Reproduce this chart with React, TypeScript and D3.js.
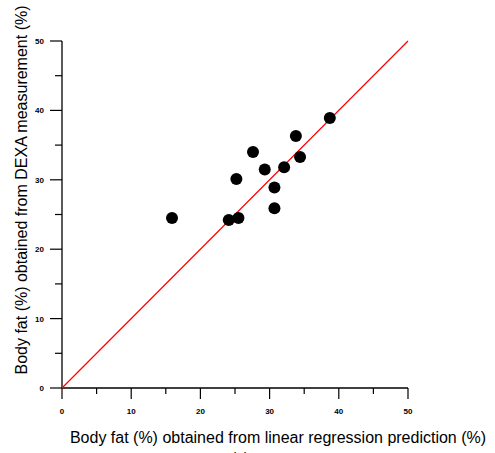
import React, { useRef, useEffect } from "react";
import * as d3 from "d3";

const predicted = [15.9, 24.1, 25.5, 25.2, 27.6, 29.3, 30.7, 30.7, 32.1, 33.8, 34.4, 38.7];
const measured = [24.5, 24.2, 24.5, 30.1, 34.0, 31.5, 28.9, 25.9, 31.8, 36.3, 33.3, 38.9];
const majorTicks = [0, 10, 20, 30, 40, 50];
const minorTicks = [5, 15, 25, 35, 45];
const xTitle = "Body fat (%) obtained from linear regression prediction (%)";
const yTitle = "Body fat (%) obtained from DEXA measurement (%)";

const W = 495;
const H = 453;
const FONT = "'Liberation Sans', Arial, sans-serif";

const App = () => {
  const svgRef = useRef<SVGSVGElement>(null);

  useEffect(() => {
    const svg = d3.select(svgRef.current);
    svg.selectAll("*").remove();

    const x = d3.scaleLinear().domain([0, 50]).range([62, 408]);
    const y = d3.scaleLinear().domain([0, 50]).range([388, 41]);

    // axes lines
    svg.append("line")
      .attr("x1", x(0)).attr("x2", x(50))
      .attr("y1", y(0)).attr("y2", y(0))
      .attr("stroke", "#000").attr("stroke-width", 1.3);
    svg.append("line")
      .attr("x1", x(0)).attr("x2", x(0))
      .attr("y1", y(0)).attr("y2", y(50))
      .attr("stroke", "#000").attr("stroke-width", 1.3);

    // x ticks
    svg.append("g").selectAll("line.maj")
      .data(majorTicks).enter().append("line")
      .attr("x1", (d) => x(d)).attr("x2", (d) => x(d))
      .attr("y1", y(0)).attr("y2", y(0) + 11)
      .attr("stroke", "#000").attr("stroke-width", 1.2);
    svg.append("g").selectAll("line.min")
      .data(minorTicks).enter().append("line")
      .attr("x1", (d) => x(d)).attr("x2", (d) => x(d))
      .attr("y1", y(0)).attr("y2", y(0) + 6)
      .attr("stroke", "#000").attr("stroke-width", 1.2);
    svg.append("g").selectAll("text")
      .data(majorTicks).enter().append("text")
      .attr("x", (d) => x(d))
      .attr("y", y(0) + 26)
      .attr("text-anchor", "middle")
      .style("font", `bold 8px ${FONT}`)
      .text((d) => d);

    // y ticks
    svg.append("g").selectAll("line.maj")
      .data(majorTicks).enter().append("line")
      .attr("x1", x(0) - 12).attr("x2", x(0))
      .attr("y1", (d) => y(d)).attr("y2", (d) => y(d))
      .attr("stroke", "#000").attr("stroke-width", 1.2);
    svg.append("g").selectAll("line.min")
      .data(minorTicks).enter().append("line")
      .attr("x1", x(0) - 7).attr("x2", x(0))
      .attr("y1", (d) => y(d)).attr("y2", (d) => y(d))
      .attr("stroke", "#000").attr("stroke-width", 1.2);
    svg.append("g").selectAll("text")
      .data(majorTicks).enter().append("text")
      .attr("x", x(0) - 18)
      .attr("y", (d) => y(d) + 3)
      .attr("text-anchor", "end")
      .style("font", `bold 8px ${FONT}`)
      .text((d) => d);

    // identity line
    svg.append("line")
      .attr("x1", x(0)).attr("y1", y(0))
      .attr("x2", x(50)).attr("y2", y(50))
      .attr("stroke", "#ff0000").attr("stroke-width", 1.2);

    // points
    svg.append("g").selectAll("circle")
      .data(predicted).enter().append("circle")
      .attr("cx", (d) => x(d))
      .attr("cy", (d, i) => y(measured[i]))
      .attr("r", 6)
      .attr("fill", "#000");

    // titles
    svg.append("text")
      .attr("x", 278).attr("y", 443)
      .attr("text-anchor", "middle")
      .style("font", `16px ${FONT}`)
      .text(xTitle);
    svg.append("text")
      .attr("transform", `translate(27,190) rotate(-90)`)
      .attr("text-anchor", "middle")
      .style("font", `16px ${FONT}`)
      .text(yTitle);
    // panel label, cut by the bottom edge as in the source figure
    svg.append("text")
      .attr("x", 240).attr("y", 463)
      .attr("text-anchor", "middle")
      .style("font", `14px ${FONT}`)
      .text("(a)");
  }, []);

  return (
    <svg
      ref={svgRef}
      width={W}
      height={H}
      style={{ position: "absolute", left: 0, top: 0, background: "#fff" }}
    />
  );
};

export default App;
